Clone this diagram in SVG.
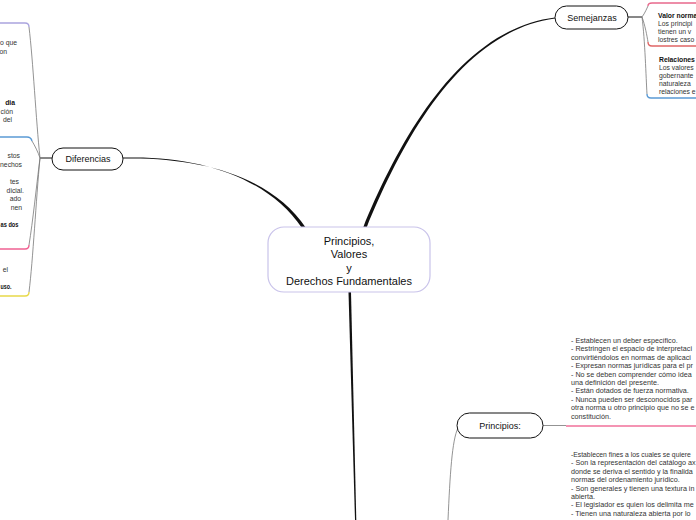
<svg xmlns="http://www.w3.org/2000/svg" width="696" height="520" viewBox="0 0 696 520">
<style>
.node rect{fill:#fff;stroke:#111;stroke-width:1}
.lbl{font-family:"Liberation Sans",Arial,sans-serif;font-size:9px;fill:#111;text-anchor:middle}
.ctr{font-family:"Liberation Sans",Arial,sans-serif;font-size:11px;fill:#111;text-anchor:middle}
.sm{font-family:"Liberation Sans",Arial,sans-serif;font-size:7.2px;fill:#333}
.ss{font-family:"Liberation Sans",Arial,sans-serif;font-size:6.8px;fill:#333}
.b{font-weight:bold;fill:#111}
.e{text-anchor:end}
.con{fill:none;stroke:#777;stroke-width:0.8}
.ul{fill:none;stroke-width:1.4}
</style>
<rect width="696" height="520" fill="#fff"/>
<g id="connectors">
  <path d="M363,228 C399,140 460,29 555,17.4 L555,18.6 C461,31 402,141 366.5,228 Z" fill="#111"/>
  <path d="M123,157.6 C200,155 268,178 302,228 L306,228 C272,177 202,157 123,158.6 Z" fill="#111"/>
  <path d="M348.5,292 L351,292 L356.3,520 L355,520 Z" fill="#111"/>
  <path class="con" d="M458,428 C452,440 450,475 448,520"/>
  <path d="M628,17 H642" stroke="#111" stroke-width="1" fill="none"/>
  <path class="con" d="M642,17 C645,13 647,8 648,6"/>
  <path class="con" d="M642,17 C645,25 647,36 648,42"/>
  <path class="con" d="M642,17 C645,40 646,78 647,94"/>
  <path d="M52,158 H40" stroke="#111" stroke-width="1" fill="none"/>
  <path class="con" d="M40,158 C36,120 33,60 29,27"/>
  <path class="con" d="M40,158 C38,152 35,146 32,141"/>
  <path class="con" d="M40,158 C36,190 33,220 29,245"/>
  <path class="con" d="M40,158 C36,200 33,260 29,292"/>
  <path d="M543,425.5 H566" stroke="#777" stroke-width="0.8" fill="none"/>
</g>
<g id="central">
  <rect x="268" y="227" width="162" height="65" rx="16" fill="#fff" stroke="#c9c3ea" stroke-width="1.2"/>
  <text class="ctr" x="349" y="245">Principios,</text>
  <text class="ctr" x="349" y="258">Valores</text>
  <text class="ctr" x="349" y="272">y</text>
  <text class="ctr" x="349" y="285">Derechos Fundamentales</text>
</g>
<g id="semejanzas" class="node">
  <rect x="555" y="6" width="73" height="23" rx="11.5"/>
  <text class="lbl" x="592" y="21">Semejanzas</text>
</g>
<g id="diferencias" class="node">
  <rect x="52" y="148" width="71" height="22" rx="11"/>
  <text class="lbl" x="88" y="162">Diferencias</text>
</g>
<g id="principios" class="node">
  <rect x="457" y="413" width="86" height="25" rx="12.5"/>
  <text class="lbl" x="500" y="429">Principios:</text>
</g>
<g id="sem-item1">
  <path class="ul" d="M648,6 Q648,3 652,3 H696" stroke="#e8688c"/>
</g>
<g id="sem-item2">
  <text class="ss b" x="658" y="18">Valor norma</text>
  <text class="ss" x="658" y="26">Los principi</text>
  <text class="ss" x="658" y="34">tienen un v</text>
  <text class="ss" x="658" y="42">lostres caso</text>
  <path class="ul" d="M648,42 Q648,46 652,46 H696" stroke="#e06666"/>
</g>
<g id="sem-item3">
  <text class="ss b" x="659" y="62">Relaciones</text>
  <text class="ss" x="659" y="70">Los valores</text>
  <text class="ss" x="659" y="78">gobernante</text>
  <text class="ss" x="659" y="86">naturaleza</text>
  <text class="ss" x="659" y="94">relaciones e</text>
  <path class="ul" d="M647,94 Q647,98 651,98 H696" stroke="#5b9bd5"/>
</g>
<g id="dif-item1">
  <path class="ul" d="M0,23 H25 Q29,23 29,27" stroke="#aaa4de"/>
  <text class="ss e" x="17" y="45">o que</text>
  <text class="ss e" x="7" y="54">on</text>
  <text class="ss b e" x="15" y="105">dia</text>
  <text class="ss e" x="13" y="114">ción</text>
  <text class="ss e" x="12" y="122">del</text>
</g>
<g id="dif-item2">
  <path class="ul" d="M0,137 H27 Q31,137 32,141" stroke="#5b9bd5"/>
  <text class="ss e" x="20" y="158">stos</text>
  <text class="ss e" x="22" y="167">nechos</text>
  <text class="ss e" x="19" y="184">tes</text>
  <text class="ss e" x="24" y="193">dicial.</text>
  <text class="ss e" x="21" y="201">ado</text>
  <text class="ss e" x="22" y="210">nen</text>
  <text class="ss b" x="0.5" y="227" textLength="18" lengthAdjust="spacingAndGlyphs">as dos</text>
  <path class="ul" d="M0,249 H25 Q29,249 29,245" stroke="#f06292"/>
</g>
<g id="dif-item3">
  <text class="ss e" x="8" y="272">el</text>
  <text class="ss b" x="0.5" y="289" textLength="11" lengthAdjust="spacingAndGlyphs">uso.</text>
  <path class="ul" d="M0,296 H25 Q29,296 29,292" stroke="#e8d94a"/>
</g>
<g id="pri-item1">
  <text class="sm" x="571" y="343">- Establecen un deber específico.</text>
  <text class="sm" x="571" y="351.4">- Restringen el espacio de interpretaci</text>
  <text class="sm" x="571" y="359.8">convirtiéndolos en normas de aplicaci</text>
  <text class="sm" x="571" y="368.2">- Expresan normas jurídicas para el pr</text>
  <text class="sm" x="571" y="376.6">- No se deben comprender cómo idea</text>
  <text class="sm" x="571" y="385">una definición del presente.</text>
  <text class="sm" x="571" y="393.4">- Están dotados de fuerza normativa.</text>
  <text class="sm" x="571" y="401.8">- Nunca pueden ser desconocidos par</text>
  <text class="sm" x="571" y="410.2">otra norma u otro principio que no se e</text>
  <text class="sm" x="571" y="418.6">constitución.</text>
  <path class="ul" d="M566,426 H696" stroke="#f0709a"/>
</g>
<g id="pri-item2">
  <text class="sm" x="571" y="457" style="font-size:6.8px">-Establecen fines a los cuales se quiere</text>
  <text class="sm" x="571" y="465.4">- Son la representación del catálogo ax</text>
  <text class="sm" x="571" y="473.8">donde se deriva el sentido y la finalida</text>
  <text class="sm" x="571" y="482.2">normas del ordenamiento jurídico.</text>
  <text class="sm" x="571" y="490.6">- Son generales y tienen una textura in</text>
  <text class="sm" x="571" y="499">abierta.</text>
  <text class="sm" x="571" y="507.4">- El legislador es quien los delimita me</text>
  <text class="sm" x="571" y="515.8">- Tienen una naturaleza abierta por lo</text>
</g>
</svg>
